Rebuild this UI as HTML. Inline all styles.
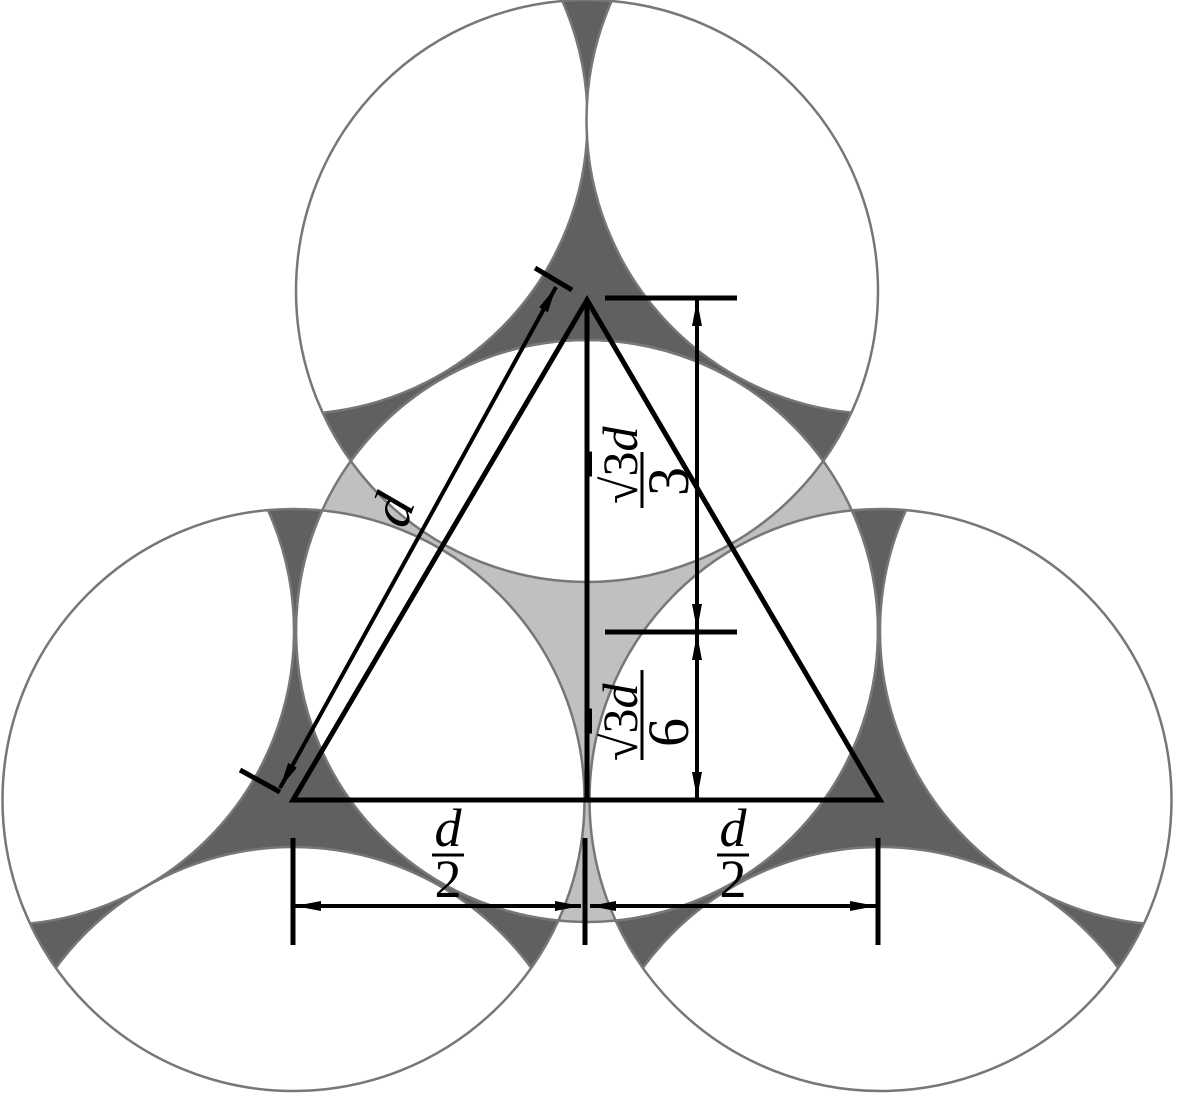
<!DOCTYPE html>
<html><head><meta charset="utf-8"><style>html,body{margin:0;padding:0;background:#fff;overflow:hidden;width:1181px;height:1101px}svg{display:block}</style></head>
<body>
<svg width="1181" height="1101" viewBox="0 0 1181 1101" xmlns="http://www.w3.org/2000/svg">
<defs>
<clipPath id="vc">
<circle cx="587" cy="291" r="291"/>
<circle cx="293.5" cy="800" r="291"/>
<circle cx="880.5" cy="800" r="291"/>
</clipPath>
<mask id="lm">
<rect width="1181" height="1101" fill="#fff"/>
<circle cx="587" cy="291" r="291" fill="#000"/>
<circle cx="293.5" cy="800" r="291" fill="#000"/>
<circle cx="880.5" cy="800" r="291" fill="#000"/>
</mask>
<marker id="ar" viewBox="0 0 26 12" refX="26" refY="6" markerWidth="26" markerHeight="12" markerUnits="userSpaceOnUse" orient="auto">
<path d="M0,1 L26,6 L0,11 Z" fill="#000"/>
</marker>
</defs>
<rect width="1181" height="1101" fill="#fff"/>
<circle cx="587" cy="631" r="291" fill="#c0c0c0" mask="url(#lm)"/>
<g clip-path="url(#vc)">
<rect width="1181" height="1101" fill="#606060"/>
<g fill="#fff" stroke="#777" stroke-width="2.5">
<circle cx="587" cy="631" r="291"/>
<circle cx="293.5" cy="120" r="294"/>
<circle cx="880.5" cy="120" r="294"/>
<circle cx="0" cy="631" r="294"/>
<circle cx="1174" cy="631" r="294"/>
<circle cx="293.5" cy="1141" r="294"/>
<circle cx="880.5" cy="1141" r="294"/>
</g>
</g>
<g fill="none" stroke="#777" stroke-width="2.5">
<circle cx="587" cy="291" r="291"/>
<circle cx="293.5" cy="800" r="291"/>
<circle cx="880.5" cy="800" r="291"/>
<circle cx="587" cy="631" r="291"/>
</g>
<g stroke="#000" fill="none" stroke-width="5">
<path d="M587,300 L293,800 L880,800 Z"/>
<line x1="587" y1="300" x2="587" y2="800"/>
<line x1="585" y1="838" x2="585" y2="945"/>
<line x1="293" y1="838" x2="293" y2="945"/>
<line x1="878" y1="838" x2="878" y2="945"/>
<line x1="605" y1="298" x2="737" y2="298"/>
<line x1="605" y1="632" x2="737" y2="632"/>
<line x1="535" y1="268" x2="572" y2="290"/>
<line x1="240" y1="770" x2="280" y2="792"/>
</g>
<g stroke="#000" stroke-width="4" fill="none">
<line x1="440" y1="906" x2="295" y2="906" marker-end="url(#ar)"/>
<line x1="440" y1="906" x2="581" y2="906" marker-end="url(#ar)"/>
<line x1="730" y1="906" x2="590" y2="906" marker-end="url(#ar)"/>
<line x1="730" y1="906" x2="876" y2="906" marker-end="url(#ar)"/>
<line x1="697" y1="465" x2="697" y2="300" marker-end="url(#ar)"/>
<line x1="697" y1="465" x2="697" y2="630" marker-end="url(#ar)"/>
<line x1="697" y1="716" x2="697" y2="634" marker-end="url(#ar)"/>
<line x1="697" y1="716" x2="697" y2="798" marker-end="url(#ar)"/>
<line x1="418" y1="538" x2="556" y2="287" marker-end="url(#ar)"/>
<line x1="418" y1="538" x2="280" y2="788" marker-end="url(#ar)"/>
</g>
<g font-family="'Liberation Serif', serif" font-size="58" fill="#000">
<text x="398" y="512" font-style="italic" text-anchor="middle" transform="rotate(-70 398 512)" dominant-baseline="middle">d</text>
<g transform="translate(642,480) rotate(-90)">
<line x1="-28" y1="0" x2="28" y2="0" stroke="#000" stroke-width="3"/>
<text x="-24" y="-5" font-size="50">√<tspan text-decoration="overline">3</tspan><tspan font-style="italic">d</tspan></text>
<text x="-16" y="46">3</text>
</g>
<g transform="translate(642,715) rotate(-90)">
<line x1="-45" y1="0" x2="45" y2="0" stroke="#000" stroke-width="3"/>
<text x="-46" y="-5" font-size="50">√<tspan text-decoration="overline">3</tspan><tspan font-style="italic">d</tspan></text>
<text x="-32" y="46">6</text>
</g>
<g font-size="54">
<text x="448" y="846" font-style="italic" text-anchor="middle">d</text>
<line x1="432" y1="855" x2="464" y2="855" stroke="#000" stroke-width="3"/>
<text x="448" y="897" text-anchor="middle">2</text>
<text x="733" y="846" font-style="italic" text-anchor="middle">d</text>
<line x1="717" y1="855" x2="749" y2="855" stroke="#000" stroke-width="3"/>
<text x="733" y="897" text-anchor="middle">2</text>
</g>
</g>
</svg>
</body></html>
